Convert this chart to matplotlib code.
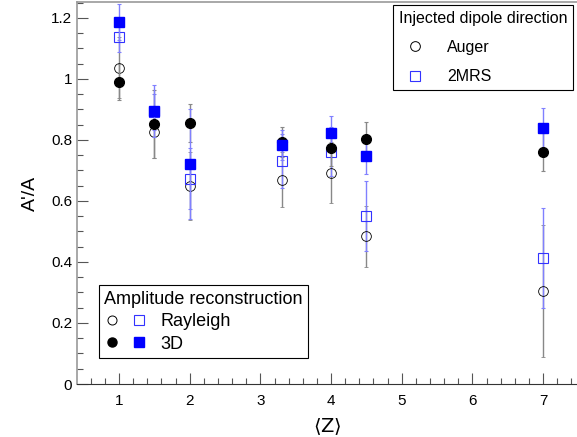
import matplotlib
matplotlib.use("Agg")
import matplotlib.pyplot as plt
from matplotlib.lines import Line2D
from matplotlib.legend_handler import HandlerTuple
from matplotlib.ticker import MultipleLocator

plt.rcParams['font.family'] = ['Liberation Sans', 'DejaVu Sans']
plt.rcParams['mathtext.fontset'] = 'dejavusans'

z = [1, 1.5, 2, 3.3, 4, 4.5, 7]
auger_ray = [1.036, 0.826, 0.649, 0.669, 0.692, 0.485, 0.305]
auger_ray_err = [0.10, 0.085, 0.11, 0.09, 0.10, 0.10, 0.216]
auger_3d = [0.99, 0.852, 0.856, 0.793, 0.774, 0.803, 0.761]
auger_3d_err = [0.06, 0.11, 0.062, 0.05, 0.06, 0.056, 0.063]
mrs_ray = [1.138, 0.892, 0.672, 0.731, 0.761, 0.551, 0.413]
mrs_ray_err = [0.05, 0.06, 0.10, 0.09, 0.08, 0.115, 0.165]
mrs_3d = [1.187, 0.895, 0.721, 0.784, 0.823, 0.748, 0.839]
mrs_3d_err = [0.06, 0.085, 0.18, 0.05, 0.056, 0.06, 0.066]

fig = plt.figure(figsize=(5.77, 4.37), dpi=100)
ax = fig.add_axes([77/577, 53/437, 1 - 77/577, (437-53-2)/437])

gray = '#888888'
lblue = '#8080ff'
ek = dict(elinewidth=1.0, capsize=1.5, capthick=0.8, linestyle='none')

ax.errorbar(z, auger_ray, yerr=auger_ray_err, marker='o', mfc='none', mec='black',
            ms=7, mew=0.6, ecolor=gray, zorder=2, **ek)
ax.errorbar(z, mrs_ray, yerr=mrs_ray_err, marker='s', mfc='none', mec='#3333ff',
            ms=7, mew=0.8, ecolor=lblue, zorder=2, **ek)
ax.errorbar(z, auger_3d, yerr=auger_3d_err, marker='o', mfc='black', mec='black',
            ms=7, ecolor=gray, zorder=3, **ek)
ax.errorbar(z, mrs_3d, yerr=mrs_3d_err, marker='s', mfc='#0000ff', mec='#0000ff',
            ms=7, ecolor=lblue, zorder=3, **ek)

ax.set_xlim(0.405, 7.48)
ax.set_ylim(0, 1.252)
ax.xaxis.set_major_locator(MultipleLocator(1))
ax.xaxis.set_minor_locator(MultipleLocator(0.2))
ax.yaxis.set_major_locator(MultipleLocator(0.2))
ax.yaxis.set_minor_locator(MultipleLocator(0.05))
ax.set_yticks([0, 0.2, 0.4, 0.6, 0.8, 1.0, 1.2])
ax.set_yticklabels(['0', '0.2', '0.4', '0.6', '0.8', '1', '1.2'])
ax.set_xticks([1, 2, 3, 4, 5, 6, 7])
ax.set_xticklabels(['1', '2', '3', '4', '5', '6', '7'])
ax.tick_params(which='major', direction='in', length=8, width=0.8, labelsize=11, color='#555555')
ax.tick_params(which='minor', direction='in', length=4, width=0.8, color='#555555')
ax.tick_params(axis='x', pad=7)
for s in ['left', 'top']:
    ax.spines[s].set_color('#999999')
    ax.spines[s].set_linewidth(1.2)
ax.spines['bottom'].set_color('#333333')
ax.spines['right'].set_visible(False)

ax.set_ylabel("A'/A", fontsize=14, labelpad=9)
ax.set_xlabel(r'$\langle \mathrm{Z} \rangle$', fontsize=14, labelpad=6)

h_auger = Line2D([], [], marker='o', mfc='none', mec='black', ms=7, mew=0.7, ls='none')
h_mrs = Line2D([], [], marker='s', mfc='none', mec='#3333ff', ms=7, mew=0.8, ls='none')
leg1 = ax.legend([h_auger, h_mrs], ['Auger', '2MRS'], title='Injected dipole direction',
                 loc='upper right', bbox_to_anchor=(0.992, 0.992), borderaxespad=0,
                 fontsize=11.5, title_fontsize=11.5, fancybox=False, edgecolor='black',
                 framealpha=1, borderpad=0.35, handlelength=2.0, handletextpad=1.0,
                 labelspacing=0.9, alignment='left')
leg1.get_frame().set_linewidth(0.8)
ax.add_artist(leg1)

h_c_open = Line2D([], [], marker='o', mfc='none', mec='black', ms=6.5, mew=0.7, ls='none')
h_s_open = Line2D([], [], marker='s', mfc='none', mec='#3333ff', ms=6.5, mew=0.8, ls='none')
h_c_full = Line2D([], [], marker='o', mfc='black', mec='black', ms=6.5, ls='none')
h_s_full = Line2D([], [], marker='s', mfc='#0000ff', mec='#0000ff', ms=6.5, ls='none')
leg2 = ax.legend([(h_c_open, h_s_open), (h_c_full, h_s_full)], ['Rayleigh', '3D'],
                 title='Amplitude reconstruction',
                 handler_map={tuple: HandlerTuple(ndivide=None, pad=0.7)},
                 loc='lower left', bbox_to_anchor=(0.044, 0.068), borderaxespad=0,
                 fontsize=13, title_fontsize=13, fancybox=False, edgecolor='black',
                 framealpha=1, borderpad=0.3, handlelength=2.3, handletextpad=0.8,
                 labelspacing=0.3, alignment='left')
leg2.get_frame().set_linewidth(0.8)

fig.savefig('out.png', dpi=100)
